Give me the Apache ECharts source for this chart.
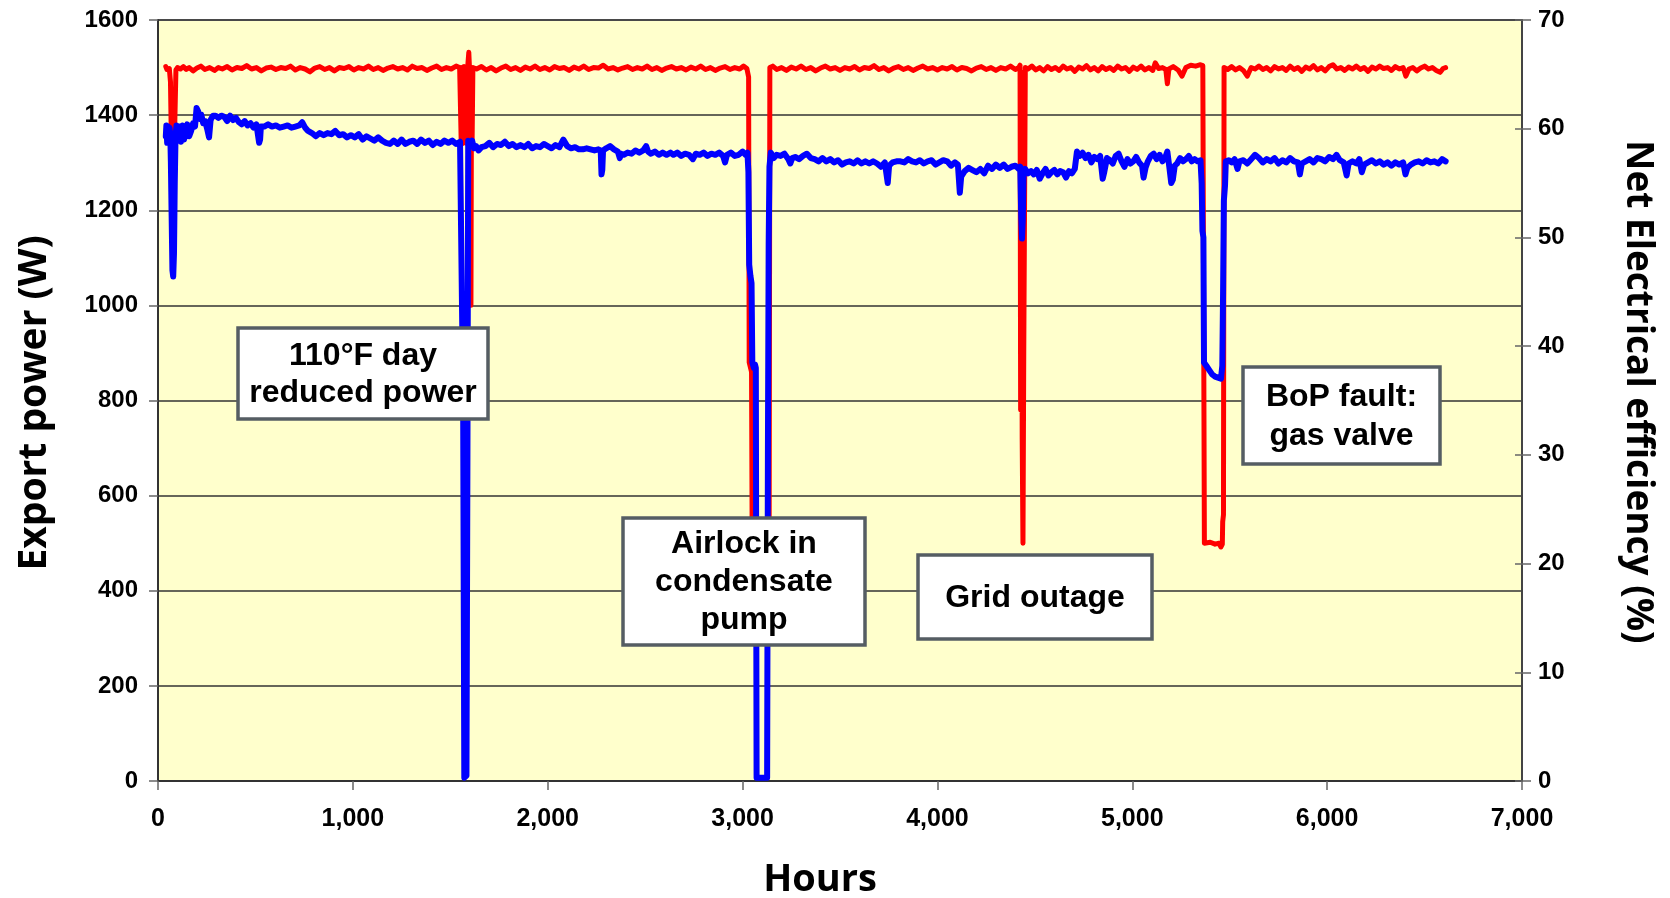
<!DOCTYPE html>
<html>
<head>
<meta charset="utf-8">
<script src="https://cdn.jsdelivr.net/npm/echarts@6/dist/echarts.min.js"></script>
<style>
html, body { margin: 0; padding: 0; background: #fff; }
#chart { width: 1670px; height: 898px; }
</style>
</head>
<body>
<div id="chart"></div>
<script>
// export power (W)
var exportPower = [
  [40,1502],[46,1496],[52,1500],[58,1498],[64,1470],[68,1360],[72,1350],[76,1430],[80,1345],[86,1380],[92,1495],
  [100,1500],[115,1497],[130,1502],[145,1496],[160,1500],[180,1493],[200,1499],[220,1503],[240,1496],[265,1500],
  [290,1494],[310,1500],[330,1497],[355,1502],[380,1495],[405,1500],[430,1498],[455,1504],[480,1497],[505,1500],
  [530,1493],[555,1499],[580,1501],[605,1496],[630,1500],[655,1498],[680,1503],[705,1495],[730,1500],[755,1497],
  [780,1491],[805,1499],[830,1502],[855,1496],[880,1500],[905,1493],[930,1500],[955,1498],[980,1502],[1005,1495],
  [1030,1500],[1055,1497],[1080,1503],[1105,1496],[1130,1500],[1155,1494],[1180,1499],[1205,1502],[1230,1497],
  [1255,1500],[1280,1495],[1305,1503],[1330,1498],[1355,1500],[1380,1494],[1405,1499],[1430,1503],[1455,1496],
  [1480,1500],[1505,1497],[1530,1503],[1548,1500],
  [1553,1500],[1556,1345],[1559,1500],[1562,1340],[1565,1500],[1568,1350],[1571,1502],[1574,1342],[1577,1500],
  [1580,1345],[1583,1500],[1586,1340],[1590,1505],[1595,1532],[1599,1495],[1602,1350],[1606,1000],[1609,1480],
  [1612,1345],[1616,1500],
  [1635,1497],[1660,1502],[1685,1495],[1710,1500],[1735,1493],[1760,1499],[1785,1503],[1810,1496],[1835,1500],
  [1860,1494],[1885,1501],[1910,1497],[1935,1503],[1960,1496],[1985,1500],[2010,1495],[2035,1502],[2060,1498],
  [2085,1500],[2110,1494],[2135,1501],[2160,1497],[2185,1503],[2210,1496],[2235,1500],[2260,1499],[2285,1505],
  [2310,1497],[2335,1500],[2360,1495],[2385,1499],[2410,1502],[2435,1496],[2460,1500],[2485,1497],[2510,1503],
  [2535,1496],[2560,1500],[2585,1494],[2610,1499],[2635,1502],[2660,1497],[2685,1500],[2710,1495],[2735,1501],
  [2760,1497],[2785,1503],[2810,1496],[2835,1500],[2860,1494],[2885,1499],[2910,1502],[2935,1496],[2960,1500],
  [2985,1497],[3005,1503],[3022,1498],[3028,1500],
  [3031,1480],[3034,880],[3046,860],[3050,420],[3136,420],[3140,1500],
  [3155,1503],[3175,1496],[3200,1500],[3225,1494],[3250,1501],[3275,1497],[3300,1503],[3325,1496],[3350,1500],
  [3375,1493],[3400,1499],[3425,1503],[3450,1497],[3475,1500],[3500,1494],[3525,1500],[3550,1497],[3575,1502],
  [3600,1495],[3625,1500],[3650,1498],[3675,1504],[3700,1496],[3725,1500],[3750,1493],[3775,1499],[3800,1502],
  [3825,1496],[3850,1500],[3875,1494],[3900,1499],[3925,1503],[3950,1497],[3975,1500],[4000,1495],[4025,1500],
  [4050,1497],[4075,1502],[4100,1495],[4125,1500],[4150,1498],[4175,1493],[4200,1499],[4225,1502],[4250,1496],
  [4275,1500],[4300,1494],[4325,1500],[4350,1497],[4375,1503],[4400,1496],[4418,1500],
  [4424,1505],[4427,780],[4431,1490],[4435,720],[4439,500],[4443,900],[4447,1200],[4451,1500],
  [4465,1497],[4485,1503],[4505,1495],[4525,1500],[4545,1493],[4565,1502],[4585,1496],[4605,1500],[4625,1494],
  [4645,1503],[4665,1497],[4685,1500],[4705,1492],[4725,1501],[4745,1497],[4765,1504],[4785,1495],[4805,1500],
  [4825,1493],[4845,1502],[4865,1496],[4885,1500],[4905,1494],[4925,1503],[4945,1497],[4965,1500],[4985,1492],
  [5005,1501],[5025,1496],[5045,1503],[5065,1495],[5085,1500],[5105,1494],[5118,1510],[5135,1498],[5155,1500],
  [5172,1496],[5180,1466],[5188,1497],[5210,1502],[5235,1495],[5255,1482],[5275,1500],[5300,1505],[5325,1503],
  [5350,1506],[5362,1504],
  [5366,1500],[5370,500],[5400,502],[5425,498],[5445,500],[5455,492],[5462,498],[5464,545],[5468,560],[5471,1500],
  [5490,1496],[5510,1502],[5530,1495],[5550,1500],[5570,1494],[5590,1482],[5610,1500],[5630,1497],[5650,1503],
  [5670,1496],[5690,1500],[5710,1493],[5730,1502],[5750,1497],[5770,1500],[5790,1494],[5810,1503],[5830,1496],
  [5850,1500],[5870,1492],[5890,1501],[5910,1497],[5930,1504],[5950,1495],[5970,1500],[5990,1493],[6010,1502],
  [6030,1506],[6050,1497],[6070,1500],[6090,1494],[6110,1501],[6130,1497],[6150,1503],[6170,1496],[6190,1500],
  [6210,1492],[6230,1501],[6250,1497],[6270,1503],[6290,1498],[6310,1500],[6330,1494],[6350,1502],[6370,1497],
  [6390,1500],[6404,1482],[6420,1497],[6440,1500],[6460,1493],[6480,1499],[6500,1503],[6520,1497],[6540,1500],
  [6560,1494],[6580,1490],[6595,1498],[6608,1500]
];

// net electrical efficiency (%)
var efficiency = [
  [40,59.3],[43,60.3],[47,58.7],[51,60.2],[55,59.0],[59,60.1],[63,59.5],[66,57.0],[70,52.0],[74,47.0],[78,46.4],
  [82,48.5],[86,55.0],[90,59.3],[95,60.3],[102,59.2],[110,60.2],[118,58.8],[126,60.3],[134,59.0],[142,59.8],
  [150,60.4],[160,59.3],[170,59.8],[180,60.5],[190,60.2],[198,61.9],[206,61.6],[214,60.9],[222,61.3],[232,60.5],
  [242,60.7],[252,60.0],[262,59.2],[270,60.8],[282,61.2],[295,61.2],[310,61.0],[325,61.2],[340,61.1],[355,60.7],
  [370,61.2],[385,60.8],[400,61.0],[415,60.6],[430,60.4],[445,60.7],[460,60.3],[475,60.5],[490,60.1],[505,60.4],
  [515,60.3],[519,58.7],[524,59.0],[528,60.2],[545,60.2],[565,60.4],[585,60.2],[605,60.3],[625,60.1],[645,60.2],
  [665,60.3],[685,60.1],[705,60.2],[725,60.3],[740,60.6],[755,60.1],[770,59.8],[790,59.6],[810,59.3],[830,59.6],
  [850,59.4],[870,59.6],[890,59.5],[910,59.8],[930,59.4],[950,59.5],[970,59.2],[990,59.4],[1010,59.2],[1030,59.5],
  [1050,59.0],[1070,59.3],[1090,59.1],[1110,58.9],[1130,59.2],[1150,58.9],[1170,58.7],[1190,58.6],[1210,58.9],
  [1230,58.6],[1250,59.0],[1270,58.6],[1290,58.8],[1310,58.9],[1330,58.6],[1350,59.0],[1370,58.7],[1390,58.9],
  [1410,58.5],[1430,58.8],[1450,58.6],[1470,58.9],[1490,58.7],[1510,58.9],[1530,58.6],[1550,58.8],[1560,58.7],
  [1566,35.0],[1572,0.3],[1578,0.2],[1583,0.5],[1588,30.0],[1592,58.9],[1600,58.6],[1612,58.9],[1622,58.2],
  [1632,58.4],[1645,58.0],[1660,58.3],[1680,58.4],[1700,58.7],[1720,58.3],[1740,58.6],[1760,58.5],[1780,58.8],
  [1800,58.4],[1820,58.6],[1840,58.3],[1860,58.5],[1880,58.3],[1900,58.6],[1920,58.2],[1940,58.4],[1960,58.3],
  [1980,58.6],[2000,58.4],[2020,58.2],[2040,58.5],[2060,58.3],[2080,59.0],[2100,58.4],[2120,58.2],[2140,58.3],
  [2160,58.1],[2180,58.1],[2200,58.2],[2220,58.1],[2240,58.0],[2260,58.1],[2272,58.0],[2276,55.8],[2280,56.2],
  [2284,58.0],[2300,58.2],[2320,58.4],[2340,58.1],[2360,57.9],[2370,57.3],[2376,57.7],[2390,57.6],[2410,57.8],
  [2430,57.7],[2450,58.0],[2470,57.8],[2490,58.0],[2505,58.4],[2515,57.9],[2530,57.7],[2550,57.9],[2570,57.6],
  [2590,57.8],[2610,57.6],[2630,57.8],[2645,57.6],[2665,57.8],[2685,57.5],[2705,57.7],[2725,57.6],[2745,57.2],
  [2760,57.7],[2780,57.6],[2800,57.8],[2820,57.5],[2840,57.7],[2860,57.6],[2880,57.8],[2900,57.5],[2910,56.9],
  [2920,57.6],[2940,57.8],[2960,57.5],[2980,57.6],[3000,57.9],[3015,57.6],[3025,57.8],
  [3030,56.0],[3034,47.5],[3040,46.5],[3046,45.8],[3050,38.5],[3058,38.0],[3064,38.3],[3068,38.0],[3072,0.3],
  [3100,0.3],[3126,0.3],[3130,30.0],[3134,49.5],[3138,56.5],[3145,57.8],[3160,57.3],[3175,57.6],[3195,57.5],
  [3215,57.7],[3235,57.2],[3245,56.8],[3255,57.3],[3270,57.4],[3290,57.2],[3310,57.5],[3330,57.7],[3350,57.3],
  [3370,57.2],[3390,57.0],[3410,57.3],[3430,57.0],[3450,57.2],[3470,56.9],[3490,57.1],[3510,56.7],[3530,56.9],
  [3550,57.0],[3570,56.8],[3590,57.1],[3610,56.8],[3630,57.0],[3650,56.8],[3670,57.0],[3690,56.8],[3710,56.5],
  [3730,56.9],[3745,55.0],[3752,56.6],[3770,56.9],[3790,57.0],[3810,57.0],[3830,56.9],[3850,57.2],[3870,57.0],
  [3890,56.9],[3910,57.1],[3930,56.8],[3950,57.0],[3970,57.1],[3990,56.7],[4010,56.9],[4030,57.1],[4050,57.0],
  [4070,56.6],[4090,56.9],[4105,56.7],[4115,54.1],[4122,55.6],[4140,56.1],[4160,56.4],[4180,56.2],[4200,56.0],
  [4220,56.3],[4240,55.9],[4260,56.6],[4280,56.3],[4300,56.7],[4320,56.4],[4340,56.7],[4360,56.3],[4380,56.5],
  [4400,56.6],[4418,56.3],
  [4425,56.5],[4430,52.0],[4434,49.9],[4438,51.5],[4442,56.0],[4450,56.3],[4465,55.9],[4480,56.1],[4495,55.8],
  [4510,56.2],[4525,55.4],[4540,55.9],[4555,56.3],[4570,55.7],[4585,56.0],[4600,56.2],[4615,55.8],[4630,56.1],
  [4645,56.0],[4660,55.5],[4675,56.1],[4690,55.9],[4705,56.3],[4716,57.9],[4730,57.5],[4745,57.8],[4760,57.3],
  [4775,57.6],[4790,56.9],[4805,57.4],[4820,57.2],[4835,57.5],[4848,55.4],[4856,56.0],[4870,57.3],[4885,57.1],
  [4900,56.8],[4915,57.5],[4930,57.7],[4945,57.0],[4960,56.5],[4975,57.2],[4990,56.8],[5005,57.0],[5020,57.4],
  [5035,56.9],[5050,56.6],[5058,55.5],[5068,56.4],[5080,57.0],[5095,57.5],[5110,57.7],[5125,57.2],[5140,57.6],
  [5155,57.0],[5170,57.4],[5180,57.9],[5190,56.5],[5200,55.0],[5208,55.3],[5218,56.6],[5230,56.8],[5245,57.3],
  [5260,57.0],[5275,57.2],[5290,57.5],[5305,57.0],[5320,57.2],[5335,57.0],[5350,57.1],[5356,55.0],
  [5360,50.6],[5365,50.0],[5368,38.5],[5380,38.2],[5395,37.8],[5410,37.4],[5425,37.2],[5440,37.1],[5455,37.0],
  [5462,38.2],[5466,45.0],[5470,53.4],[5476,54.8],[5480,57.0],[5495,57.1],[5510,56.9],[5525,57.2],[5540,56.3],
  [5550,57.0],[5570,57.1],[5590,56.8],[5610,57.2],[5630,57.6],[5650,57.3],[5670,56.9],[5690,57.2],[5710,57.0],
  [5730,57.3],[5750,56.8],[5770,57.1],[5790,56.9],[5810,57.3],[5830,57.0],[5850,56.9],[5860,55.8],[5870,56.8],
  [5890,57.0],[5910,57.2],[5930,56.9],[5950,57.3],[5970,57.2],[5990,57.0],[6010,57.4],[6030,57.2],[6048,57.6],
  [6065,57.1],[6085,56.9],[6100,55.7],[6110,56.8],[6130,57.0],[6150,56.8],[6165,57.2],[6178,56.0],[6190,56.7],
  [6210,56.9],[6230,57.1],[6250,56.8],[6270,57.0],[6290,56.7],[6310,56.9],[6330,56.6],[6350,56.9],[6370,56.7],
  [6390,56.9],[6402,55.8],[6412,56.4],[6430,56.7],[6450,56.9],[6470,57.0],[6490,56.8],[6510,57.1],[6530,56.9],
  [6550,57.0],[6570,56.8],[6590,57.2],[6608,57.0]
];

var noteTexts = [
  "110°F day\nreduced power",
  "Airlock in\ncondensate\npump",
  "Grid outage",
  "BoP fault:\ngas valve"
];

var labelFamily = '"Liberation Sans", Arial, sans-serif';
var titleFont = '"Open Sans", sans-serif';

// 注释框
function noteBox(text, x, y, w, h, lh) {
  return {
    type: "group", x: x, y: y,
    children: [
      { type: "rect", z: 100, shape: { x: 0, y: 0, width: w, height: h },
        style: { fill: "#fff", stroke: "#555d63", lineWidth: 3.5 } },
      { type: "text", z: 101, x: w / 2, y: h / 2 + 1,
        style: { text: text, align: "center", verticalAlign: "middle", fill: "#000",
          fontFamily: labelFamily, fontWeight: "bold", fontSize: 32, lineHeight: lh } }
    ]
  };
}

var chart = echarts.init(document.getElementById("chart"));
chart.setOption({
  animation: false,
  backgroundColor: "#fff",
  grid: { left: 158, right: 148, top: 20, bottom: 117, show: true,
    backgroundColor: "#FFFFCC", borderColor: "#8a8a8a", borderWidth: 2 },
  xAxis: {
    type: "value", min: 0, max: 7000, interval: 1000,
    axisLine: { show: true, lineStyle: { color: "#333", width: 2 } },
    axisTick: { show: true, length: 9, lineStyle: { color: "#666", width: 1.5 } },
    splitLine: { show: false },
    axisLabel: { margin: 26, fontSize: 25, color: "#000", fontFamily: labelFamily, fontWeight: "bold",
      formatter: function (v) { return v.toLocaleString("en-US"); } }
  },
  yAxis: [
    { type: "value", position: "left", min: 0, max: 1600, interval: 200,
      axisLine: { show: true, lineStyle: { color: "#333", width: 2 } },
      axisTick: { show: true, length: 9, lineStyle: { color: "#666", width: 1.5 } },
      splitLine: { show: true, lineStyle: { color: "#333", width: 1.5 } },
      axisLabel: { margin: 20, fontSize: 24, color: "#000", fontFamily: labelFamily, fontWeight: "bold",
        formatter: function (v) { return String(v); } } },
    { type: "value", position: "right", min: 0, max: 70, interval: 10,
      axisLine: { show: true, lineStyle: { color: "#444", width: 2 } },
      axisTick: { show: true, length: 9, lineStyle: { color: "#666", width: 1.5 } },
      splitLine: { show: false },
      axisLabel: { margin: 16, fontSize: 24, color: "#000", fontFamily: labelFamily, fontWeight: "bold" } },
    { type: "value", position: "right", min: 0, max: 70, interval: 10,
      axisLine: { show: false },
      axisTick: { show: true, inside: true, length: 7, lineStyle: { color: "#666", width: 1.5 } },
      splitLine: { show: false },
      axisLabel: { show: false } }
  ],
  series: [
    { name: "Export power", type: "line", yAxisIndex: 0, data: exportPower,
      showSymbol: false, z: 3,
      lineStyle: { color: "#ff0000", width: 5, join: "round", cap: "round" } },
    { name: "Net electrical efficiency", type: "line", yAxisIndex: 1, data: efficiency,
      showSymbol: false, z: 4,
      lineStyle: { color: "#0000ff", width: 6, join: "round", cap: "round" } }
  ],
  graphic: [
    { type: "text", x: 35, y: 403, rotation: Math.PI / 2, z: 100,
      style: { text: "Export power (W)", align: "center", verticalAlign: "middle", fill: "#000",
        fontFamily: titleFont, fontWeight: "bold", fontSize: 39 } },
    { type: "text", x: 1638, y: 392, rotation: -Math.PI / 2, z: 100,
      style: { text: "Net Electrical efficiency (%)", align: "center", verticalAlign: "middle", fill: "#000",
        fontFamily: titleFont, fontWeight: "bold", fontSize: 37 } },
    { type: "text", x: 820, y: 880, z: 100,
      style: { text: "Hours", align: "center", verticalAlign: "middle", fill: "#000",
        fontFamily: titleFont, fontWeight: "bold", fontSize: 38 } },
    noteBox(noteTexts[0], 238, 328, 250, 91, 37),
    noteBox(noteTexts[1], 623, 518, 242, 127, 38),
    noteBox(noteTexts[2], 918, 555, 234, 84, 37),
    noteBox(noteTexts[3], 1243, 367, 197, 97, 39)
  ]
});
</script>
</body>
</html>
